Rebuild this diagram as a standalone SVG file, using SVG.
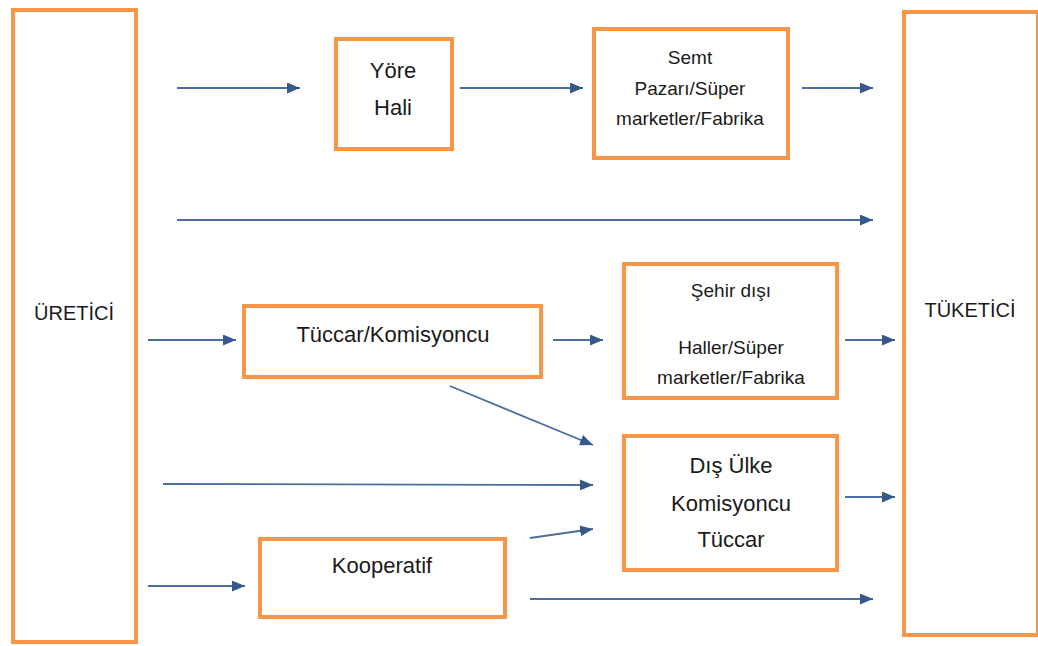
<svg xmlns="http://www.w3.org/2000/svg" width="1038" height="646" viewBox="0 0 1038 646">
<style>
.box{fill:#fff;stroke:#F79646;stroke-width:4}
.t{font-family:"Liberation Sans",Arial,sans-serif;fill:#1a1a1a;text-anchor:middle}
.big{font-size:22px}
.sm{font-size:19px}
.end{font-size:20px}
.c{stroke:#4A6E9E;stroke-width:1.8;fill:none;marker-end:url(#ah)}
</style>
<defs>
<marker id="ah" markerUnits="userSpaceOnUse" markerWidth="13" markerHeight="11" refX="13" refY="5.5" orient="auto">
<path d="M0,0 L13,5.5 L0,11 z" fill="#35598A"/>
</marker>
</defs>
<rect x="0" y="0" width="1038" height="646" fill="#fff"/>
<g id="uretici">
<rect class="box" x="13" y="10" width="123" height="632"/>
<text class="t end" x="74" y="320">ÜRETİCİ</text>
</g>
<g id="tuketici">
<rect class="box" x="904" y="12" width="134" height="623"/>
<text class="t end" x="970" y="317">TÜKETİCİ</text>
</g>
<g id="yore-hali">
<rect class="box" x="336" y="39" width="116" height="110"/>
<text class="t big" x="393" y="78">Yöre</text>
<text class="t big" x="393" y="115">Hali</text>
</g>
<g id="semt">
<rect class="box" x="594" y="29" width="194" height="129"/>
<text class="t sm" x="690" y="64">Semt</text>
<text class="t sm" x="690" y="95">Pazarı/Süper</text>
<text class="t sm" x="690" y="125">marketler/Fabrika</text>
</g>
<g id="tuccar-komisyoncu">
<rect class="box" x="244" y="306" width="297" height="71"/>
<text class="t big" x="393" y="342">Tüccar/Komisyoncu</text>
</g>
<g id="sehir-disi">
<rect class="box" x="624" y="264" width="213" height="134"/>
<text class="t sm" x="731" y="297">Şehir dışı</text>
<text class="t sm" x="731" y="354">Haller/Süper</text>
<text class="t sm" x="731" y="384">marketler/Fabrika</text>
</g>
<g id="dis-ulke">
<rect class="box" x="624" y="436" width="213" height="134"/>
<text class="t big" x="731" y="473">Dış Ülke</text>
<text class="t big" x="731" y="511">Komisyoncu</text>
<text class="t big" x="731" y="547">Tüccar</text>
</g>
<g id="kooperatif">
<rect class="box" x="260" y="539" width="245" height="78"/>
<text class="t big" x="382" y="573">Kooperatif</text>
</g>
<g id="connectors">
<line class="c" x1="177" y1="88" x2="300" y2="88"/>
<line class="c" x1="460" y1="88" x2="583" y2="88"/>
<line class="c" x1="802" y1="88" x2="873" y2="88"/>
<line class="c" x1="177" y1="220" x2="873" y2="220"/>
<line class="c" x1="148" y1="340" x2="236" y2="340"/>
<line class="c" x1="553" y1="340" x2="603" y2="340"/>
<line class="c" x1="845" y1="340" x2="895" y2="340"/>
<line class="c" x1="450" y1="386" x2="593" y2="445"/>
<line class="c" x1="163" y1="484" x2="593" y2="485"/>
<line class="c" x1="530" y1="538" x2="593" y2="529"/>
<line class="c" x1="845" y1="497" x2="895" y2="497"/>
<line class="c" x1="148" y1="586" x2="245" y2="586"/>
<line class="c" x1="530" y1="599" x2="873" y2="599"/>
</g>
</svg>
